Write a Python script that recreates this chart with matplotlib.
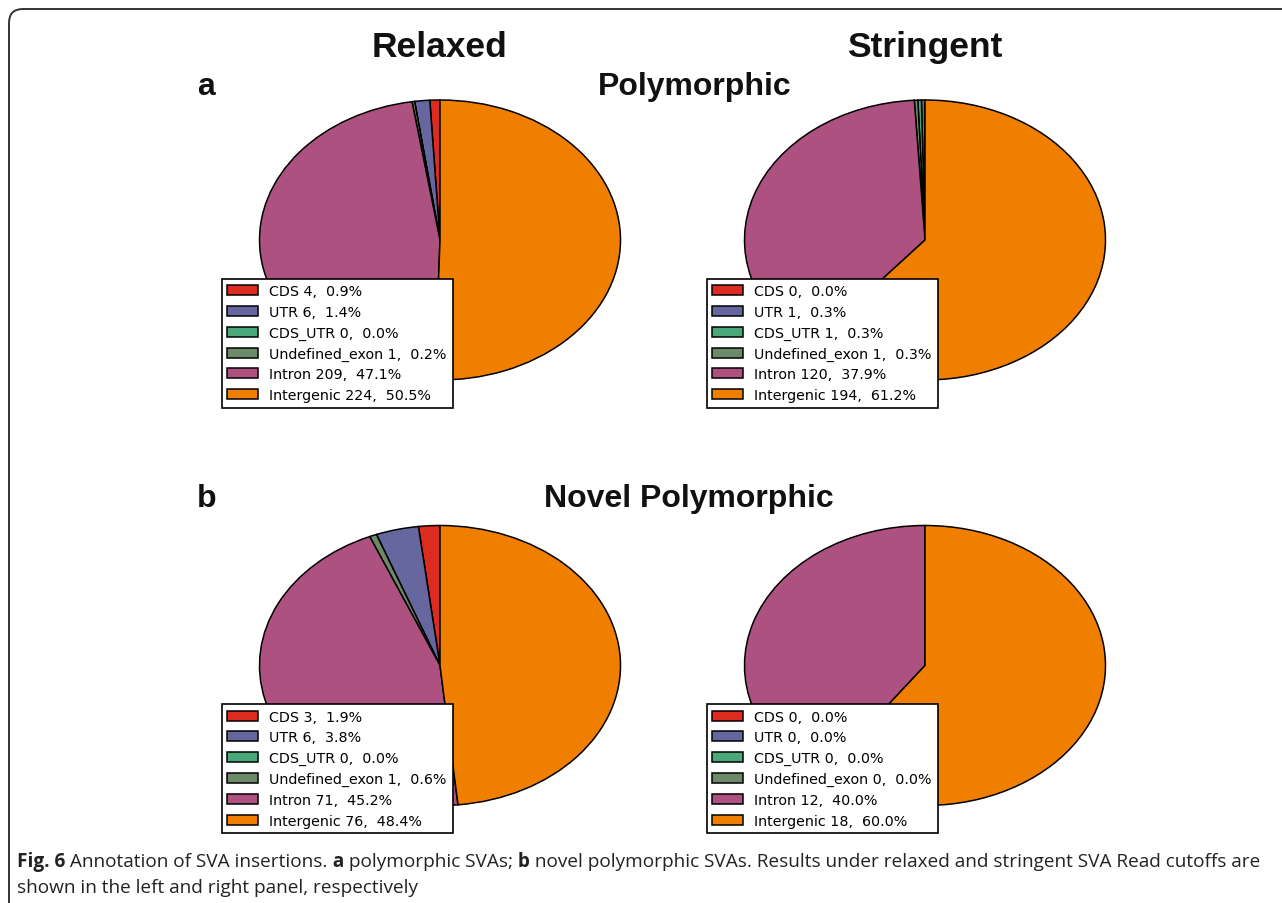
import matplotlib
matplotlib.use("Agg")
import matplotlib.pyplot as plt
from matplotlib.patches import FancyBboxPatch

# Categorias y conteos de inserciones SVA
categorias = ["CDS", "UTR", "CDS_UTR", "Undefined_exon", "Intron", "Intergenic"]
colores = ["#dc2b1f", "#66679f", "#4aa87b", "#6c8a69", "#ad5280", "#f07f00"]

poli_relajado = [4, 6, 0, 1, 209, 224]
poli_estricto = [0, 1, 1, 1, 120, 194]
nuevo_relajado = [3, 6, 0, 1, 71, 76]
nuevo_estricto = [0, 0, 0, 0, 12, 18]

titulos_columnas = ["Relaxed", "Stringent"]
titulos_filas = ["Polymorphic", "Novel Polymorphic"]
letras_filas = ["a", "b"]

W, H = 1282, 904
fig = plt.figure(figsize=(W / 100, H / 100), dpi=100)

# Eje de fondo en pixeles para marco, titulos y pie de figura
fondo = fig.add_axes([0, 0, 1, 1])
fondo.set_xlim(0, W)
fondo.set_ylim(H, 0)
fondo.axis("off")
fondo.add_patch(FancyBboxPatch((9, 10), 1320, 1000,
                               boxstyle="round,pad=0,rounding_size=14",
                               fill=False, ec="#333333", lw=1.4))


def etiquetas(valores):
    total = sum(valores)
    return [f"{c} {v},  {100.0 * v / total:.1f}%" for c, v in zip(categorias, valores)]


def dibujar_pie(cx, cy, valores, rx=180.5, ry=140):
    # el eje cubre +-1.25 radios alrededor del centro (en pixeles)
    ancho, alto = 2.5 * rx, 2.5 * ry
    ax = fig.add_axes([(cx - ancho / 2) / W, 1 - (cy + alto / 2) / H, ancho / W, alto / H])
    cunas, _ = ax.pie(valores, colors=colores, startangle=90,
                      wedgeprops=dict(edgecolor="black", linewidth=1.1))
    ax.set_aspect("auto")
    ax.set_xlim(-1.25, 1.25)
    ax.set_ylim(-1.25, 1.25)
    leg = ax.legend(cunas, etiquetas(valores), loc="lower left",
                    prop=dict(family="DejaVu Sans", size=10.3),
                    fancybox=False, framealpha=1, edgecolor="black",
                    handlelength=2.15, borderpad=0.4, labelspacing=0.47,
                    borderaxespad=0.5)
    leg.get_frame().set_linewidth(1.2)
    for h in leg.legend_handles:
        h.set_edgecolor("black")
        h.set_linewidth(1.1)
    return ax


dibujar_pie(440, 241, poli_relajado)
dibujar_pie(925, 241, poli_estricto)
dibujar_pie(440, 666.5, nuevo_relajado)
dibujar_pie(925, 666.5, nuevo_estricto)

titulo_fuente = dict(family="Liberation Sans", weight="bold", color="#111111")
fondo.text(440, 57, titulos_columnas[0], fontsize=25.5, ha="center", va="baseline", **titulo_fuente)
fondo.text(925, 57, titulos_columnas[1], fontsize=25.5, ha="center", va="baseline", **titulo_fuente)
fondo.text(197, 95, letras_filas[0], fontsize=23, ha="left", va="baseline", **titulo_fuente)
fondo.text(695, 95, titulos_filas[0], fontsize=23, ha="center", va="baseline", **titulo_fuente)
fondo.text(197, 507, letras_filas[1], fontsize=23, ha="left", va="baseline", **titulo_fuente)
fondo.text(689, 507, titulos_filas[1], fontsize=23, ha="center", va="baseline", **titulo_fuente)

# Pie de figura con partes en negrita
linea1 = [("Fig. 6", "bold"), (" Annotation of SVA insertions.", "normal"), (" a", "bold"),
          (" polymorphic SVAs;", "normal"), (" b", "bold"),
          (" novel polymorphic SVAs. Results under relaxed and stringent SVA Read cutoffs are", "normal")]
linea2 = [("shown in the left and right panel, respectively", "normal")]

fig.canvas.draw()
renderer = fig.canvas.get_renderer()
for y, partes in [(867, linea1), (893, linea2)]:
    x = 17
    for texto, peso in partes:
        t = fondo.text(x, y, texto, fontsize=13.7, family="Open Sans", weight=peso,
                       color="#222222", ha="left", va="baseline")
        x += t.get_window_extent(renderer).width

fig.savefig("out.png", dpi=100)
